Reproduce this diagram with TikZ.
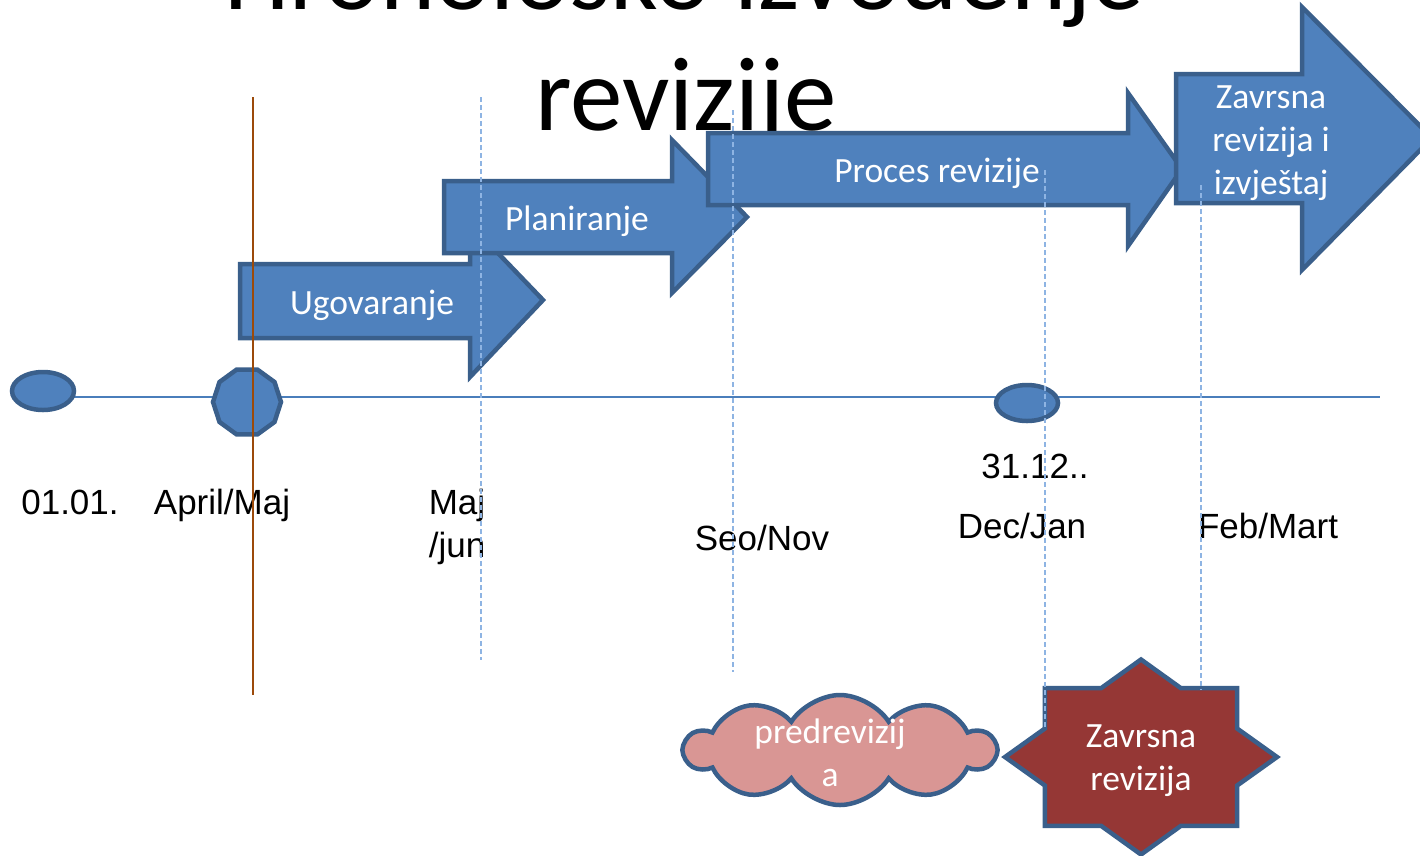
\documentclass[tikz,border=0pt]{standalone}
\usepackage{fontspec}
\setmainfont{Liberation Sans}
\newfontfamily\calfont{Carlito}
\usetikzlibrary{shapes.geometric,shapes.symbols}
\definecolor{arrfill}{HTML}{4F81BD}
\definecolor{arrline}{HTML}{3A5F8B}
\definecolor{tline}{HTML}{4A7EBB}
\definecolor{dashblue}{HTML}{8EB4E3}
\definecolor{brownline}{HTML}{9C4A0A}
\definecolor{cloudfill}{HTML}{D99694}
\definecolor{starfill}{HTML}{953735}
\tikzset{
  blockarrow/.style={fill=arrfill, draw=arrline, line width=4.5pt, line join=miter},
  arrlabel/.style={text=white, font=\calfont\fontsize{35.5}{43}\selectfont, align=center, inner sep=0pt},
  datelabel/.style={text=black, font=\fontsize{35}{43}\selectfont, inner sep=0pt},
  dot/.style={fill=arrfill, draw=arrline, line width=4.5pt, inner sep=0pt},
  guide/.style={draw=dashblue, line width=1.5pt, dash pattern=on 5pt off 3pt},
  titletext/.style={font=\calfont\fontsize{105}{105}\selectfont, inner sep=0pt, text=black}
}
\begin{document}
\begin{tikzpicture}[x=1pt,y=-1pt]
\useasboundingbox (0,0) rectangle (1420,855);
\clip (0,0) rectangle (1420,855);
% title
\node[titletext, anchor=base] (t1) at (684,9) {Hronološko izvođenje};
\node[titletext, anchor=base] (t2) at (686,130) {revizije};
% timeline
\coordinate (tlend) at (1380,397);
\coordinate (tlstart) at (70,397);
\draw[tline, line width=1.5pt] (tlstart) -- (tlend);
\node[dot, ellipse, minimum width=62pt, minimum height=38pt] (e1) at (43,391) {};
\node[dot, regular polygon, regular polygon sides=10, minimum size=68pt] (e2) at (247,402) {};
\node[dot, ellipse, minimum width=62pt, minimum height=36pt] (e3) at (1027,403) {};
% arrows
\draw[blockarrow] (240,264) -- (470,264) -- (470,224) -- (543,300) -- (470,377) -- (470,338) -- (240,338) -- cycle;
\node[arrlabel] (a1) at (372,305) {Ugovaranje};
\draw[blockarrow] (444,181) -- (672,181) -- (672,140) -- (747,217) -- (672,293) -- (672,253) -- (444,253) -- cycle;
\node[arrlabel] (a2) at (577,221) {Planiranje};
\draw[blockarrow] (708,133) -- (1128,133) -- (1128,93) -- (1182,169) -- (1128,246) -- (1128,205) -- (708,205) -- cycle;
\node[arrlabel] (a3) at (937,173) {Proces revizije};
\draw[blockarrow] (1176,74) -- (1302,74) -- (1302,7) -- (1432,138) -- (1302,270) -- (1302,203) -- (1176,203) -- cycle;
\node[arrlabel] (a4) at (1271,143) {Zavrsna\\revizija i\\izvještaj};
% date labels
\node[datelabel] (d1) at (70,502) {01.01.};
\node[datelabel] (d2) at (222,505) {April/Maj};
\node[datelabel, align=left] (d3) at (457,527) {Maj\\/jun};
\node[datelabel] (d4) at (762,538) {Seo/Nov};
\node[datelabel] (d5) at (1035,466) {31.12..};
\node[datelabel] (d6) at (1022,526) {Dec/Jan};
\node[datelabel] (d7) at (1268,526) {Feb/Mart};
% cloud
\node[cloud, cloud puffs=10, cloud puff arc=115, aspect=2.8, draw=arrline, fill=cloudfill, line width=4.5pt, minimum width=310pt, minimum height=110pt, inner sep=0pt] (cl) at (840,750) {};
\node[arrlabel] (clt) at (830,753) {predrevizij\\a};
% star
\draw[fill=starfill, draw=arrline, line width=4.5pt, line join=miter]
 (1277,757) -- (1237.1,728.5) -- (1237.2,688.1) -- (1180.8,688.1) -- (1141,659.5) -- (1101.2,688.1) -- (1044.8,688.1) -- (1044.9,728.5)
 -- (1005,757) -- (1044.9,785.5) -- (1044.8,825.9) -- (1101.2,825.9) -- (1141,854.5) -- (1180.8,825.9) -- (1237.2,825.9) -- (1237.1,785.5) -- cycle;
\node[arrlabel] (st) at (1141,761) {Zavrsna\\revizija};
% vertical guide lines
\draw[brownline, line width=1.8pt] (253,97) -- (253,695);
\draw[guide] (481,97) -- (481,660);
\draw[guide] (733,110) -- (733,672);
\draw[guide] (1045,170) -- (1045,728);
\draw[guide] (1201,185) -- (1201,690);
\end{tikzpicture}
\end{document}
